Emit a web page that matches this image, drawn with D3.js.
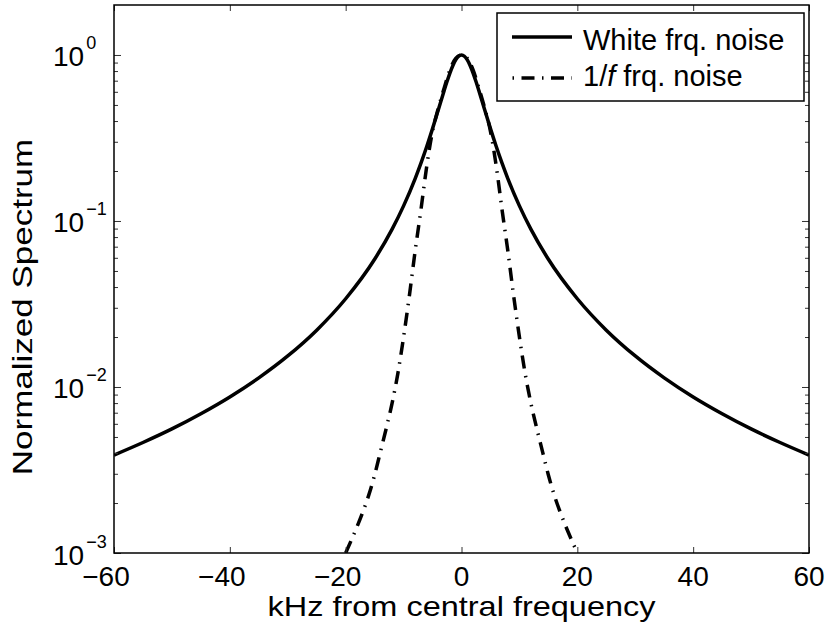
<!DOCTYPE html>
<html>
<head>
<meta charset="utf-8">
<script src="https://cdn.jsdelivr.net/npm/d3@7"></script>
<style>
  body { margin: 0; background: #fff; }
  svg { display: block; font-family: "Liberation Sans", Arial, Helvetica, sans-serif; }
  .tick line { stroke: #333; }
  .domain { display: none; }
</style>
</head>
<body>
<div id="graph"></div>
<script>
// kHz offsets for the white frequency noise curve
const whiteFreqs = [-60, -55, -50, -45, -40, -35, -30, -25, -20, -15, -12, -10, -8, -7, -6, -5, -4, -3, -2.5, -2, -1.5, -1, -0.5,
  0, 0.5, 1, 1.5, 2, 2.5, 3, 4, 5, 6, 7, 8, 10, 12, 15, 20, 25, 30, 35, 40, 45, 50, 55, 60];
const whiteNoise = [0.00389, 0.00463, 0.00559, 0.00690, 0.00871, 0.01135, 0.01538, 0.0220, 0.0340, 0.0588, 0.0890, 0.1233, 0.1801, 0.223, 0.2809, 0.360, 0.4677, 0.6098, 0.692, 0.7785, 0.862, 0.9336, 0.9825,
  1.0, 0.9825, 0.9336, 0.862, 0.7785, 0.692, 0.6098, 0.4677, 0.360, 0.2809, 0.223, 0.1801, 0.1233, 0.0890, 0.0588, 0.0340, 0.0220, 0.01538, 0.01135, 0.00871, 0.00690, 0.00559, 0.00463, 0.00389];

// kHz offsets for the 1/f frequency noise curve
const flickerFreqs = [-20, -19, -18, -17, -16, -15, -14, -13, -12, -11, -10, -9, -8, -7, -6, -5, -4, -3, -2, -1,
  0, 1, 2, 3, 4, 5, 6, 7, 8, 9, 10, 11, 12, 13, 14, 15, 16, 17, 18, 19, 20];
const flickerNoise = [0.00100, 0.00120, 0.00145, 0.00178, 0.00224, 0.00295, 0.00407, 0.00562, 0.00794, 0.0120, 0.0200, 0.0355, 0.0661, 0.117, 0.214, 0.347, 0.479, 0.631, 0.813, 0.955,
  1.0, 0.955, 0.813, 0.631, 0.479, 0.347, 0.214, 0.117, 0.0661, 0.0355, 0.0200, 0.0120, 0.00794, 0.00562, 0.00407, 0.00295, 0.00224, 0.00178, 0.00145, 0.00120, 0.00100];

const xTicks = [-60, -40, -20, 0, 20, 40, 60];
const yTicks = [1e-3, 1e-2, 1e-1, 1];
const yExponents = ["\u22123", "\u22122", "\u22121", "0"];
const legendLabels = ["White frq. noise", "1/f frq. noise"];

const dimension = { width: 695, height: 548, margin: { top: 5, right: 19, bottom: 75, left: 114 } };
const DASHDOT = "13,7.5,1.5,7.5";

function axisX(dimension) {
  return d3.scaleLinear().domain([-60, 60]).range([0, dimension.width]);
}

function axisY(dimension) {
  return d3.scaleLog().domain([1e-3, 2]).range([dimension.height, 0]);
}

function curve(axis, xs) {
  return d3.line()
    .x((d, i) => axis.x(xs[i]))
    .y(d => axis.y(d))
    .curve(d3.curveMonotoneX);
}

function drawAxis(context, axis, dimension) {
  const { width, height } = dimension;
  const isMajor = v => Math.abs(Math.log10(v) - Math.round(Math.log10(v))) < 1e-9;
  const minor = axis.y.ticks().filter(v => v < 2 && !isMajor(v));

  // x ticks, inward on bottom and top
  context.append("g").attr("transform", `translate(0,${height})`)
    .call(d3.axisBottom(axis.x).tickValues(xTicks).tickSize(-6).tickFormat(""));
  context.append("g")
    .call(d3.axisTop(axis.x).tickValues(xTicks).tickSize(-6).tickFormat(""));

  // y ticks, majors longer than minors, on both sides
  context.append("g")
    .call(d3.axisLeft(axis.y).tickValues(minor).tickSize(-4).tickFormat(""));
  context.append("g")
    .call(d3.axisLeft(axis.y).tickValues(yTicks).tickSize(-7).tickFormat(""));
  context.append("g").attr("transform", `translate(${width},0)`)
    .call(d3.axisRight(axis.y).tickValues(minor).tickSize(-4).tickFormat(""));
  context.append("g").attr("transform", `translate(${width},0)`)
    .call(d3.axisRight(axis.y).tickValues(yTicks).tickSize(-7).tickFormat(""));

  // box
  context.append("rect")
    .attr("width", width).attr("height", height)
    .attr("fill", "none").attr("stroke", "#000").attr("stroke-width", 1.5);

  // x tick labels (digits centred on the tick, minus hangs left)
  context.append("g").selectAll("text").data(xTicks).join("text")
    .attr("x", d => axis.x(d))
    .attr("y", height + 33)
    .attr("dx", d => d < 0 ? -8 : 0)
    .attr("text-anchor", "middle")
    .attr("font-size", 28)
    .text(d => d < 0 ? "\u2212" + Math.abs(d) : d);

  // y tick labels as 10^n
  const yl = context.append("g").selectAll("text").data(yTicks).join("text")
    .attr("x", -61)
    .attr("y", d => axis.y(d) + 11.5)
    .attr("font-size", 28);
  yl.append("tspan").text("10");
  yl.append("tspan").attr("dx", 2).attr("dy", -17).attr("font-size", 18)
    .text((d, i) => yExponents[i]);

  // axis labels, a little stretched along their length like the original
  context.append("text")
    .attr("transform", `translate(${width / 2},${height + 63}) scale(1.16,1)`)
    .attr("text-anchor", "middle")
    .attr("font-size", 28)
    .text("kHz from central frequency");

  context.append("text")
    .attr("transform", "translate(-82,302) rotate(-90) scale(1.25,1)")
    .attr("text-anchor", "middle")
    .attr("font-size", 28)
    .text("Normalized Spectrum");
}

function drawLegend(context) {
  const g = context.append("g").attr("transform", "translate(383,8)");
  g.append("rect")
    .attr("width", 307).attr("height", 88)
    .attr("fill", "#fff").attr("stroke", "#000").attr("stroke-width", 1.5);

  const lineY = [24, 65];
  const textY = [37, 73];
  g.selectAll("line").data(legendLabels).join("line")
    .attr("x1", 15).attr("x2", 75)
    .attr("y1", (d, i) => lineY[i]).attr("y2", (d, i) => lineY[i])
    .attr("stroke", "#000").attr("stroke-width", 3.5)
    .attr("stroke-dasharray", (d, i) => i ? DASHDOT : null)
    .attr("stroke-dashoffset", (d, i) => i ? 20 : null);

  g.append("text").attr("x", 86).attr("y", textY[0]).attr("font-size", 29).text(legendLabels[0]);
  const t = g.append("text").attr("x", 86).attr("y", textY[1]).attr("font-size", 29);
  t.append("tspan").text("1/");
  t.append("tspan").attr("font-style", "italic").text("f");
  t.append("tspan").text(" frq. noise");
}

function draw() {
  const { width, height, margin } = dimension;
  const svg = d3.select("#graph").append("svg")
    .attr("width", 828).attr("height", 628);
  svg.append("rect").attr("width", 828).attr("height", 628).attr("fill", "#fff");
  const context = svg.append("g")
    .attr("transform", `translate(${margin.left},${margin.top})`);
  const axis = { x: axisX(dimension), y: axisY(dimension) };

  context.append("clipPath").attr("id", "plot")
    .append("rect").attr("width", width).attr("height", height);

  const lines = context.append("g").attr("clip-path", "url(#plot)");
  lines.append("path")
    .datum(whiteNoise)
    .attr("fill", "none").attr("stroke", "#000").attr("stroke-width", 3.5)
    .attr("d", curve(axis, whiteFreqs));
  lines.append("path")
    .datum(flickerNoise)
    .attr("fill", "none").attr("stroke", "#000").attr("stroke-width", 3.5)
    .attr("stroke-dasharray", DASHDOT)
    .attr("d", curve(axis, flickerFreqs));

  drawAxis(context, axis, dimension);
  drawLegend(context);
}

draw();
</script>
</body>
</html>
